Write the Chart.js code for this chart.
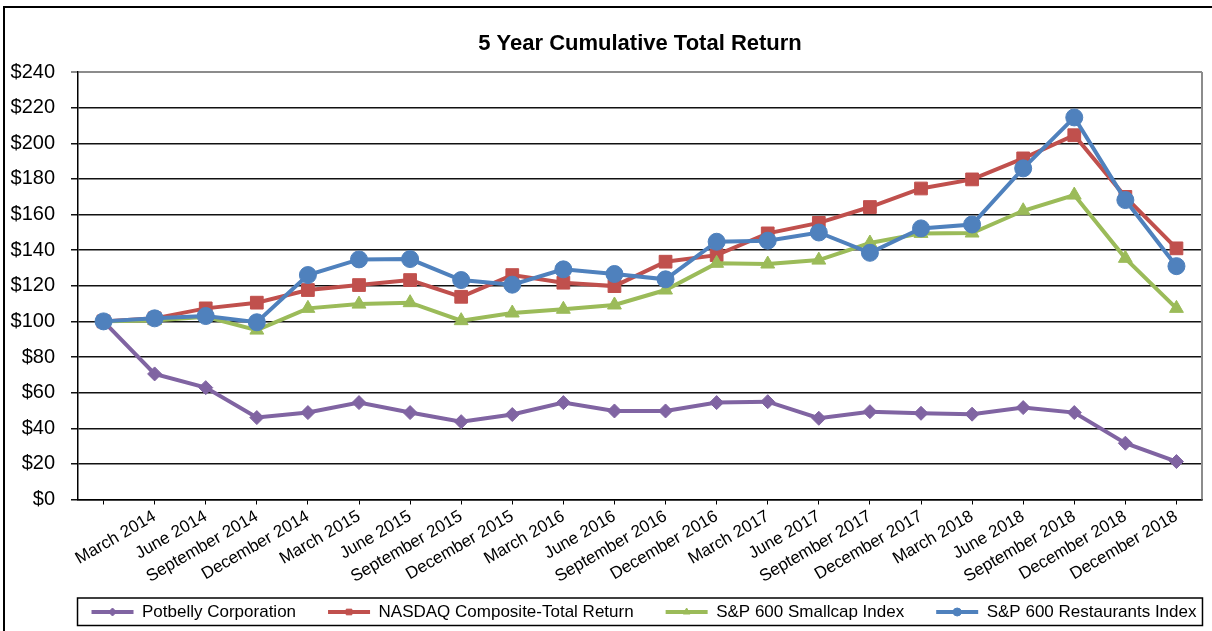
<!DOCTYPE html>
<html>
<head>
<meta charset="utf-8">
<script src="https://cdn.jsdelivr.net/npm/chart.js@4.4.1/dist/chart.umd.min.js"></script>
<style>
html,body{margin:0;padding:0;background:#fff;}
#wrap{width:1212px;height:631px;position:relative;}
</style>
</head>
<body>
<div id="wrap"><canvas id="c" width="1212" height="631"></canvas></div>
<script>
// ---- data ----
const categories = ["", "March 2014", "June 2014", "September 2014", "December 2014",
  "March 2015", "June 2015", "September 2015", "December 2015",
  "March 2016", "June 2016", "September 2016", "December 2016",
  "March 2017", "June 2017", "September 2017", "December 2017",
  "March 2018", "June 2018", "September 2018", "December 2018", "December 2018"];
const potbelly    = [100, 70.5, 62.8, 46.0, 48.8, 54.4, 48.8, 43.7, 47.7, 54.4, 49.7, 49.7, 54.4, 54.9, 45.6, 49.3, 48.4, 47.9, 51.6, 48.8, 31.6, 21.3];
const nasdaq      = [100, 101.7, 107.3, 110.5, 117.6, 120.4, 123.2, 113.8, 126.0, 121.7, 119.8, 133.5, 137.2, 149.4, 155.3, 164.2, 174.6, 179.7, 191.5, 204.5, 169.9, 141.0];
const smallcap    = [100, 100.5, 102.6, 95.1, 107.3, 109.7, 110.5, 100.4, 104.7, 106.8, 109.2, 117.6, 132.6, 132.2, 134.4, 144.0, 149.4, 149.6, 162.1, 170.9, 135.4, 107.3];
const restaurants = [100, 101.7, 103.0, 99.5, 126.0, 134.8, 135.0, 123.2, 120.6, 129.2, 126.6, 123.6, 144.7, 145.3, 149.9, 138.5, 152.2, 154.4, 185.9, 214.5, 168.1, 131.0];
const seriesNames = ["Potbelly Corporation", "NASDAQ Composite-Total Return", "S&P 600 Smallcap Index", "S&P 600 Restaurants Index"];
const yMin = 0, yMax = 240, yStep = 20;
const titleText = "5 Year Cumulative Total Return";

// ---- styles ----
const FONT = "'Liberation Sans', Arial, sans-serif";
const colors = ["#8064A2", "#C0504D", "#9BBB59", "#4F81BD"];
const pointStyles = ["rectRot", "rect", "triangle", "circle"];
const pointRadii = [7, 9, 8, 8.5];
const values = [potbelly, nasdaq, smallcap, restaurants];
const LEGEND_PAD = 32;

const datasets = values.map((v, i) => ({
  label: seriesNames[i],
  data: v,
  borderColor: colors[i],
  backgroundColor: colors[i],
  borderWidth: 4,
  pointStyle: pointStyles[i],
  pointRadius: pointRadii[i],
  pointHoverRadius: pointRadii[i],
  pointBorderWidth: 1,
  pointBorderColor: colors[i],
  pointBackgroundColor: colors[i],
  tension: 0,
  fill: false,
  order: values.length - 1 - i
}));

const framePlugin = {
  id: 'frame',
  afterLayout(chart) {
    const ca = chart.chartArea;
    const t = chart.titleBlock;
    if (t) { t.left = ca.left; t.right = ca.right; t.width = ca.right - ca.left; }
    const lg = chart.legend;
    if (lg) { lg.left = ca.left - 36; lg.right = ca.right + 44; lg.width = lg.right - lg.left; }
    const xs = chart.scales.x;
    if (xs) { xs.bottom = chart.height; xs.height = xs.bottom - xs.top; }
  },
  beforeDraw(chart) {
    const ctx = chart.ctx;
    ctx.save();
    ctx.fillStyle = '#fff';
    ctx.fillRect(0, 0, chart.width, chart.height);
    ctx.restore();
  },
  afterDraw(chart) {
    const ctx = chart.ctx;
    const ca = chart.chartArea;
    ctx.save();
    // outer chart frame (left & top visible)
    ctx.strokeStyle = '#000';
    ctx.lineWidth = 2;
    ctx.strokeRect(4, 7, chart.width + 10, chart.height + 10);
    // plot area right border
    ctx.strokeStyle = '#8c8c8c';
    ctx.lineWidth = 2;
    ctx.beginPath();
    ctx.moveTo(ca.right, ca.top);
    ctx.lineTo(ca.right, ca.bottom);
    ctx.stroke();
    // legend frame + markers
    const lg = chart.legend;
    if (lg && lg.legendHitBoxes && lg.legendHitBoxes.length) {
      const hb = lg.legendHitBoxes;
      const last = hb[hb.length - 1];
      const l = hb[0].left - 14, r = last.left + last.width + 6;
      const t = hb[0].top - 5.5, b = hb[0].top + hb[0].height + 5;
      ctx.strokeStyle = '#000';
      ctx.lineWidth = 1.5;
      ctx.strokeRect(l, t, r - l, b - t);
      const bw = lg.options.labels.boxWidth;
      const H = Chart.helpers;
      hb.forEach((h, i) => {
        const item = lg.legendItems[i];
        const di = item.datasetIndex;
        if (H && H.drawPoint) {
          ctx.fillStyle = colors[di];
          ctx.strokeStyle = colors[di];
          ctx.lineWidth = 1;
          H.drawPoint(ctx, {pointStyle: pointStyles[di], rotation: 0, radius: 4, borderWidth: 1}, h.left + bw / 2, h.top + h.height / 2);
        }
      });
    }
    ctx.restore();
  }
};

new Chart(document.getElementById('c'), {
  type: 'line',
  data: { labels: categories, datasets: datasets },
  plugins: [framePlugin],
  options: {
    responsive: false,
    devicePixelRatio: 1,
    animation: false,
    layout: { padding: { left: 0, right: 7, top: 0, bottom: 0.5 } },
    plugins: {
      tooltip: { enabled: false },
      title: {
        display: true,
        text: titleText,
        color: '#000',
        font: { family: FONT, size: 22, weight: 'bold' },
        padding: { top: 31, bottom: 14.6 }
      },
      legend: {
        display: true,
        position: 'bottom',
        labels: {
          color: '#000',
          font: { family: FONT, size: 17 },
          boxWidth: 42,
          boxHeight: 4,
          padding: LEGEND_PAD,
          sort: (a, b) => a.datasetIndex - b.datasetIndex,
          generateLabels: (chart) => {
            const items = Chart.defaults.plugins.legend.labels.generateLabels(chart);
            items.forEach(it => { it.lineWidth = 0; it.fillStyle = colors[it.datasetIndex]; });
            return items;
          }
        }
      }
    },
    scales: {
      x: {
        type: 'category',
        offset: true,
        afterFit: (s) => { s.height = 72; },
        border: { display: true, color: '#000', width: 1.5 },
        grid: { display: true, offset: false, drawOnChartArea: false, drawTicks: true, tickLength: 5, color: '#000', lineWidth: 1 },
        ticks: {
          autoSkip: false,
          maxRotation: 30,
          minRotation: 30,
          padding: 2,
          color: '#000',
          font: { family: FONT, size: 17 }
        }
      },
      y: {
        min: yMin,
        max: yMax,
        afterFit: (s) => { s.width = 78; },
        border: { display: true, color: '#000', width: 1.5 },
        grid: {
          color: (c) => (c.tick && c.tick.value === yMax) ? '#8c8c8c' : '#111',
          lineWidth: (c) => (c.tick && c.tick.value === yMax) ? 2 : 1.5,
          tickLength: 7,
          drawTicks: true
        },
        ticks: {
          stepSize: yStep,
          padding: 16,
          color: '#000',
          font: { family: FONT, size: 20 },
          callback: (v) => '$' + v
        }
      }
    }
  }
});
</script>
</body>
</html>
